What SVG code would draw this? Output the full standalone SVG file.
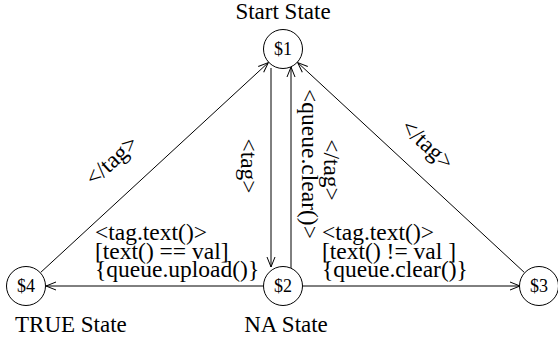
<svg xmlns="http://www.w3.org/2000/svg" width="558" height="346" viewBox="0 0 558 346" font-family="'Liberation Serif', 'Times New Roman', Times, serif">
<style>
text{font-family:'Liberation Serif','Times New Roman',Times,serif;fill:#000}
.lbl{font-size:23.5px}
.nd{font-size:18px}
.st{font-size:23px}
circle{fill:#fff;stroke:#000;stroke-width:1}
.edge{stroke:#000;stroke-width:1;fill:none}
</style>
<defs>
<marker id="arr" markerUnits="userSpaceOnUse" markerWidth="14" markerHeight="12" refX="0" refY="0" viewBox="-12 -6 14 12" orient="auto" overflow="visible">
<path d="M-10,-4 L0,0 L-10,4" fill="none" stroke="#000" stroke-width="1"/>
</marker>
</defs>
<rect width="558" height="346" fill="#fff"/>
<g id="connectors">
<line class="edge" x1="40.7" y1="272.4" x2="268.3" y2="62.6" marker-end="url(#arr)"/>
<line class="edge" x1="524.3" y1="272.4" x2="297.7" y2="62.6" marker-end="url(#arr)"/>
<line class="edge" x1="271" y1="68" x2="271" y2="267" marker-end="url(#arr)"/>
<line class="edge" x1="291" y1="268" x2="291" y2="67" marker-end="url(#arr)"/>
<line class="edge" x1="263" y1="286" x2="46" y2="286" marker-end="url(#arr)"/>
<line class="edge" x1="303" y1="286" x2="520" y2="286" marker-end="url(#arr)"/>
<text class="lbl" text-anchor="middle" transform="translate(112,161) rotate(-42.7)" y="7">&lt;/tag&gt;</text>
<text class="lbl" text-anchor="middle" transform="translate(427,145) rotate(42.8)" y="7">&lt;/tag&gt;</text>
<text class="lbl" text-anchor="middle" transform="translate(248,166) rotate(90)" y="7">&lt;tag&gt;</text>
<text class="lbl" text-anchor="middle" transform="translate(309,164) rotate(90)" y="7">&lt;queue.clear()&gt;</text>
<text class="lbl" text-anchor="middle" transform="translate(331,170) rotate(90)" y="7">&lt;/tag&gt;</text>
<text class="lbl" x="95" y="240">&lt;tag.text()&gt;</text>
<text class="lbl" x="95" y="259">[text() == val]</text>
<text class="lbl" x="95" y="277">{queue.upload()}</text>
<text class="lbl" x="322" y="240">&lt;tag.text()&gt;</text>
<text class="lbl" x="322" y="259">[text() != val ]</text>
<text class="lbl" x="322" y="277">{queue.clear()}</text>
</g>
<g id="s1">
<circle cx="283" cy="49" r="19.5"/>
<text class="nd" x="283" y="55" text-anchor="middle">$1</text>
<text class="st" x="283" y="19" text-anchor="middle">Start State</text>
</g>
<g id="s2">
<circle cx="283" cy="286" r="19.5"/>
<text class="nd" x="283" y="292" text-anchor="middle">$2</text>
<text class="st" x="286" y="332" text-anchor="middle">NA State</text>
</g>
<g id="s3">
<circle cx="539" cy="286" r="19.5"/>
<text class="nd" x="539" y="292" text-anchor="middle">$3</text>
</g>
<g id="s4">
<circle cx="26" cy="286" r="19.5"/>
<text class="nd" x="26" y="292" text-anchor="middle">$4</text>
<text class="st" x="15" y="332">TRUE State</text>
</g>
</svg>
